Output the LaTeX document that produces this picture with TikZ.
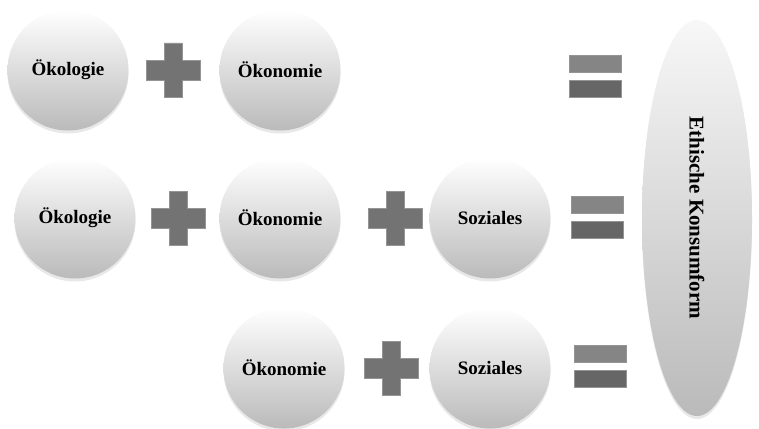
\documentclass[tikz,border=0pt]{standalone}
\usepackage{fontspec}
\setmainfont{Liberation Serif}
\usetikzlibrary{shadows,shapes.geometric}
\tikzset{
  ball/.style={circle, minimum size=121pt, inner sep=0pt,
    top color=white, bottom color=black!27, draw=none,
    drop shadow={shadow xshift=0pt, shadow yshift=-3pt, fill=black!15, opacity=0.6},
    font=\bfseries\fontsize{19}{22}\selectfont},
  oval/.style={ellipse, minimum width=110pt, minimum height=396pt, inner sep=0pt,
    top color=white!97!black, bottom color=black!27, draw=none,
    drop shadow={shadow xshift=0pt, shadow yshift=-3pt, fill=black!15, opacity=0.6}},
  pbar/.style={fill=black!55, draw=black!42, line width=0.5pt},
  ebar/.style={draw=black!42, line width=0.5pt},
  pics/plussign/.style={code={
    \filldraw[pbar] (-9,-27) -- (9,-27) -- (9,-10) -- (27,-10) -- (27,10) -- (9,10)
      -- (9,27) -- (-9,27) -- (-9,10) -- (-27,10) -- (-27,-10) -- (-9,-10) -- cycle;
  }},
  pics/equalsign/.style={code={
    \filldraw[ebar, fill=black!48] (-26,-21) rectangle (26,-4);
    \filldraw[ebar, fill=black!60] (-26,4) rectangle (26,21);
  }}
}
\begin{document}
\begin{tikzpicture}[x=1pt,y=-1pt]
\useasboundingbox (0,0) rectangle (759,428);
% row 1
\node[ball] (oek1) at (68,70) {Ökologie};
\pic at (173,70) {plussign};
\node[ball] (oko1) at (280,70) {Ökonomie};
\pic at (595,76) {equalsign};
% row 2
\node[ball] (oek2) at (75,218) {Ökologie};
\pic at (178,218) {plussign};
\node[ball] (oko2) at (280,218) {Ökonomie};
\pic at (395,218) {plussign};
\node[ball] (soz2) at (490,218) {Soziales};
\pic at (597,217) {equalsign};
% row 3
\node[ball] (oko3) at (284,368) {Ökonomie};
\pic at (391,368) {plussign};
\node[ball] (soz3) at (490,368) {Soziales};
\pic at (600,366) {equalsign};
% result
\node[oval] (eth) at (697,218) {};
\node[rotate=-90, font=\bfseries\fontsize{21}{24}\selectfont] (ethtxt) at (eth.center) {Ethische Konsumform};
\end{tikzpicture}
\end{document}
